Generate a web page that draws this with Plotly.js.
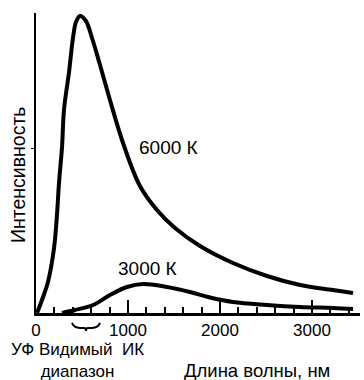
<!DOCTYPE html>
<html>
<head>
<meta charset="utf-8">
<script src="https://cdn.plot.ly/plotly-3.0.1.min.js"></script>
<style>html,body{margin:0;padding:0;background:#fff;}#chart{width:364px;height:380px;}</style>
</head>
<body>
<div id="chart"></div>
<script>
// Wavelength (nm) and relative intensity
const wl6000 = [11, 65, 130, 196, 228, 250, 283, 304, 359, 402, 435, 478, 543, 609, 696, 804, 946, 1130, 1315, 1511, 1783, 2141, 2511, 2870, 3228, 3446];
const int6000 = [0, 13, 31, 65, 98, 130, 166, 203, 241, 275, 291, 297, 292, 275, 248, 213, 170, 127, 103, 85, 67, 50, 37, 28, 23, 20];
const wl3000 = [283, 424, 620, 804, 989, 1163, 1424, 1674, 1870, 2141, 2511, 2870, 3228, 3446];
const int3000 = [0, 3, 8, 18, 26, 29, 26, 21, 16, 11, 8, 6, 5, 4];
const majorTicks = [0, 1000, 2000, 3000];
const majorTickLabels = ['0', '1000', '2000', '3000'];
const curveLabels = ['6000 К', '3000 К'];
const yTitle = 'Интенсивность';
const xTitle = 'Длина волны, нм';
const bandLabel = 'УФ Видимый\u00A0\u00A0ИК';
const bandLabel2 = 'диапазон';

const FONT = 'Liberation Sans, Arial, sans-serif';
const lineStyle = {color: '#000', width: 4, shape: 'spline', smoothing: 1};

const traces = [
  {x: wl6000, y: int6000, mode: 'lines', line: lineStyle, cliponaxis: false, hoverinfo: 'skip'},
  {x: wl3000, y: int3000, mode: 'lines', line: lineStyle, cliponaxis: false, hoverinfo: 'skip'}
];

const layout = {
  width: 364, height: 380,
  margin: {l: 36, r: 4, t: 13, b: 67},
  paper_bgcolor: '#fff', plot_bgcolor: '#fff',
  showlegend: false,
  font: {family: FONT, size: 19, color: '#000'},
  xaxis: {
    range: [0, 3522], showgrid: false, zeroline: false,
    showline: true, linecolor: '#000', linewidth: 2.5,
    tickmode: 'array', tickvals: majorTicks, ticktext: majorTickLabels,
    ticks: 'inside', ticklen: 13, tickwidth: 2, tickcolor: '#000',
    tickfont: {family: FONT, size: 17, color: '#000'},
    minor: {dtick: 200, tick0: 0, ticks: 'inside', ticklen: 6, tickwidth: 2, tickcolor: '#000'}
  },
  yaxis: {
    range: [0, 300], showgrid: false, zeroline: false,
    showline: true, linecolor: '#000', linewidth: 2,
    tickmode: 'array', tickvals: [165], ticktext: [''],
    ticks: 'outside', ticklen: 3, tickwidth: 1, tickcolor: '#000'
  },
  annotations: [
    {xref: 'paper', yref: 'paper', x: -0.0556, y: 0.463, text: yTitle, textangle: -90, showarrow: false,
     xanchor: 'center', yanchor: 'middle', font: {family: FONT, size: 19.5}},
    {xref: 'x', yref: 'y', x: 1435, y: 166, text: curveLabels[0], showarrow: false, xanchor: 'center', yanchor: 'middle'},
    {xref: 'x', yref: 'y', x: 1217, y: 45, text: curveLabels[1], showarrow: false, xanchor: 'center', yanchor: 'middle'},
    {xref: 'x', yref: 'paper', x: 450, y: -0.157, text: bandLabel + '<br>' + bandLabel2, showarrow: false,
     xanchor: 'center', yanchor: 'middle', align: 'center', font: {family: FONT, size: 17}},
    {xref: 'x', yref: 'paper', x: 2400, y: -0.193, text: xTitle, showarrow: false, xanchor: 'center', yanchor: 'middle',
     font: {family: FONT, size: 18.5}}
  ],
  shapes: [
    {type: 'path', xref: 'x', yref: 'paper',
     path: 'M 391,-0.0333 Q 413,-0.05 478,-0.05 L 522,-0.05 Q 543,-0.05 543,-0.06 Q 543,-0.05 565,-0.05 L 609,-0.05 Q 674,-0.05 696,-0.0333',
     line: {color: '#000', width: 2}}
  ]
};

Plotly.newPlot('chart', traces, layout, {displayModeBar: false, staticPlot: true});
</script>
</body>
</html>
